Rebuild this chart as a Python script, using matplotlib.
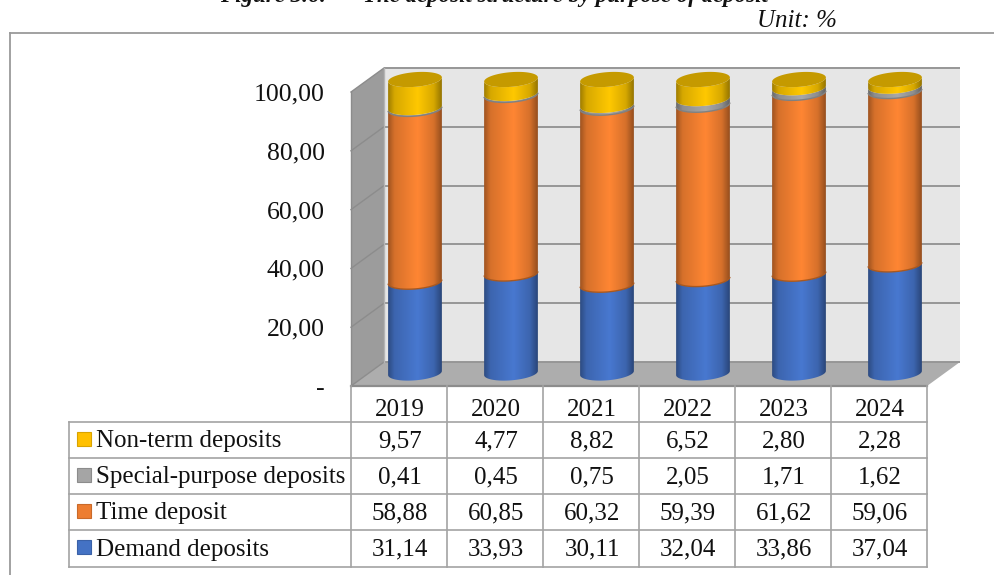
import matplotlib
matplotlib.use("Agg")
import matplotlib.pyplot as plt
from matplotlib.patches import Polygon, Rectangle
import numpy as np

plt.rcParams['font.family'] = ['Liberation Serif', 'DejaVu Serif']

years = ['2019', '2020', '2021', '2022', '2023', '2024']
demand = [31.14, 33.93, 30.11, 32.04, 33.86, 37.04]
time_dep = [58.88, 60.85, 60.32, 59.39, 61.62, 59.06]
special = [0.41, 0.45, 0.75, 2.05, 1.71, 1.62]
non_term = [9.57, 4.77, 8.82, 6.52, 2.80, 2.28]

# stacked bottom to top, table rows run the other way
series = [demand, time_dep, special, non_term]
names = ['Demand deposits', 'Time deposit', 'Special-purpose deposits', 'Non-term deposits']
colors = ['#4878d0', '#ff8633', '#a8a8a8', '#ffc800']
rim_colors = [None, '#a8581f', '#808080', None]
swatches = ['#4472c4', '#ed7d31', '#a5a5a5', '#ffc000']
y_ticks = [0, 20, 40, 60, 80, 100]
y_labels = ['-', '20,00', '40,00', '60,00', '80,00', '100,00']

W, H = 995, 575
fig = plt.figure(figsize=(W / 100, H / 100), dpi=100)


def axes_px(x0, y0, x1, y1):
    # axes from pixel box, y measured from the top
    return fig.add_axes([x0 / W, 1 - y1 / H, (x1 - x0) / W, (y1 - y0) / H])


page = fig.add_axes([0, 0, 1, 1])
page.set_xlim(0, W)
page.set_ylim(H, 0)
page.axis('off')

line_col = '#a3a3a3'
FS = 18

# outer frame
page.plot([10, W], [33, 33], color='#9a9a9a', lw=1.3)
page.plot([10, 10], [33, H], color='#9a9a9a', lw=1.3)

page.text(220, 2, 'Figure 3.6:', ha='left', va='baseline',
          fontsize=16.5, fontweight='bold', fontstyle='italic', color='#111111')
page.text(768, 2, 'The deposit structure by purpose of deposit', ha='right', va='baseline',
          fontsize=16.5, fontweight='bold', fontstyle='italic', color='#111111')
page.text(797, 21, 'Unit: %', ha='center', va='center', fontsize=FS, fontstyle='italic', color='#111111')

# 3D box: back wall, side wall, floor
back_l, back_r, back_top, back_bot = 384, 960, 68, 362
front_l, front_r, front_bot = 351, 927, 386
front_top = 92
page.add_patch(Rectangle((back_l, back_top), back_r - back_l, back_bot - back_top, fc='#e6e6e6', ec='none'))
page.add_patch(Polygon([(front_l, front_top), (back_l, back_top), (back_l, back_bot), (front_l, front_bot)],
                       fc='#9c9c9c', ec='none'))
page.add_patch(Polygon([(front_l, front_bot), (back_l, back_bot), (back_r, back_bot), (front_r, front_bot)],
                       fc='#adadad', ec='none'))
for v in y_ticks:
    yb = back_bot - (back_bot - back_top) * v / 100
    yf = front_bot - (front_bot - front_top) * v / 100
    page.plot([back_l, back_r], [yb, yb], color='#969696', lw=1.4, solid_capstyle='butt')
    page.plot([front_l, back_l], [yf, yb], color='#8c8c8c', lw=1.0)
page.plot([back_l, back_l], [back_top, back_bot], color='#b5b5b5', lw=1)
page.plot([front_l, front_l], [front_top, front_bot], color='#8c8c8c', lw=1)
page.plot([front_l, front_r], [front_bot, front_bot], color='#8c8c8c', lw=1.6)

# value axis sits on the front edge of the box
front = axes_px(front_l, front_top, front_r, front_bot)
front.set_xlim(0, 6)
front.set_ylim(0, 100)
front.patch.set_alpha(0)
for s in front.spines.values():
    s.set_visible(False)
front.set_xticks([])
front.set_yticks(y_ticks)
front.set_yticklabels(y_labels, fontsize=FS + 0.5, color='#111111')
front.tick_params(axis='y', length=0, pad=19)

# cylinders live on a plane between back wall and front edge; y range padded for the rims
y100_px, y0_px = 79.5, 373
px_per_unit = (y0_px - y100_px) / 100
pad_units = 5
ax = axes_px(367, y100_px - pad_units * px_per_unit, 943, y0_px + pad_units * px_per_unit)
ax.set_xlim(0, 6)
ax.set_ylim(-pad_units, 100 + pad_units)
ax.axis('off')

half_w = 0.28
half_h = 2.5
skew = 0.7
t_front = np.linspace(np.pi, 2 * np.pi, 60)
t_all = np.linspace(0, 2 * np.pi, 120)
profile = np.interp(np.linspace(0, 1, 200), [0, 0.12, 0.55, 0.85, 1], [0.62, 0.84, 1.0, 0.84, 0.58])


def rim(cx, v, t):
    return cx + half_w * np.cos(t), v + half_h * np.sin(t) + skew * np.cos(t)


def shade(color):
    rgb = np.array(matplotlib.colors.to_rgb(color))
    return np.clip(profile[None, :, None] * rgb[None, None, :], 0, 1)


for i in range(len(years)):
    cx = i + 0.5
    base = 0
    for vals, col, rim_col in zip(series, colors, rim_colors):
        top = base + vals[i]
        xl, yl = rim(cx, base, t_front)
        xu, yu = rim(cx, top, t_front[::-1])
        body = Polygon(np.column_stack([np.r_[xl, xu], np.r_[yl, yu]]), transform=ax.transData, fc='none', ec='none')
        ax.add_patch(body)
        im = ax.imshow(shade(col), extent=[cx - half_w, cx + half_w, base - 5, top + 5], aspect='auto', zorder=2 + base / 100)
        im.set_clip_path(body)
        # darker band along the lower rim
        if rim_col:
            ax.plot(xl, yl, color=rim_col, lw=1.0, zorder=2 + base / 100, solid_capstyle='butt')
        base = top
    xc, yc = rim(cx, base, t_all)
    ax.add_patch(Polygon(np.column_stack([xc, yc]), fc='#c59a00', ec='none', zorder=4))
ax.set_xlim(0, 6)
ax.set_ylim(-pad_units, 100 + pad_units)

# data table under the chart
row_edges = [421.5, 458, 494, 530, 566.5]
col_edges = [front_l + 96 * k for k in range(len(years) + 1)]
table_l = 68.5
page.plot([table_l, table_l], [row_edges[0], row_edges[-1]], color=line_col, lw=1.2)
for y in row_edges:
    page.plot([table_l, col_edges[-1]], [y, y], color=line_col, lw=1.2)
for x in col_edges:
    page.plot([x, x], [front_bot, row_edges[-1]], color=line_col, lw=1.2)
for k, year in enumerate(years):
    page.text((col_edges[k] + col_edges[k + 1]) / 2 + 1, (front_bot + row_edges[0]) / 2 + 6, year, ha='center', va='center',
              fontsize=FS, color='#111111')
for r, idx in enumerate([3, 2, 1, 0]):
    yc = (row_edges[r] + row_edges[r + 1]) / 2
    page.add_patch(Rectangle((76.5, yc - 8), 14, 14, fc=swatches[idx], ec=np.array(matplotlib.colors.to_rgb(swatches[idx])) * 0.85, lw=0.8))
    page.text(96, yc + 1.5, names[idx], ha='left', va='center', fontsize=FS, color='#111111')
    for k, v in enumerate(series[idx]):
        page.text((col_edges[k] + col_edges[k + 1]) / 2 + 1, yc + 1.5, f'{v:.2f}'.replace('.', ','), ha='center', va='center',
                  fontsize=FS, color='#111111')

fig.savefig('out.png', dpi=100)
